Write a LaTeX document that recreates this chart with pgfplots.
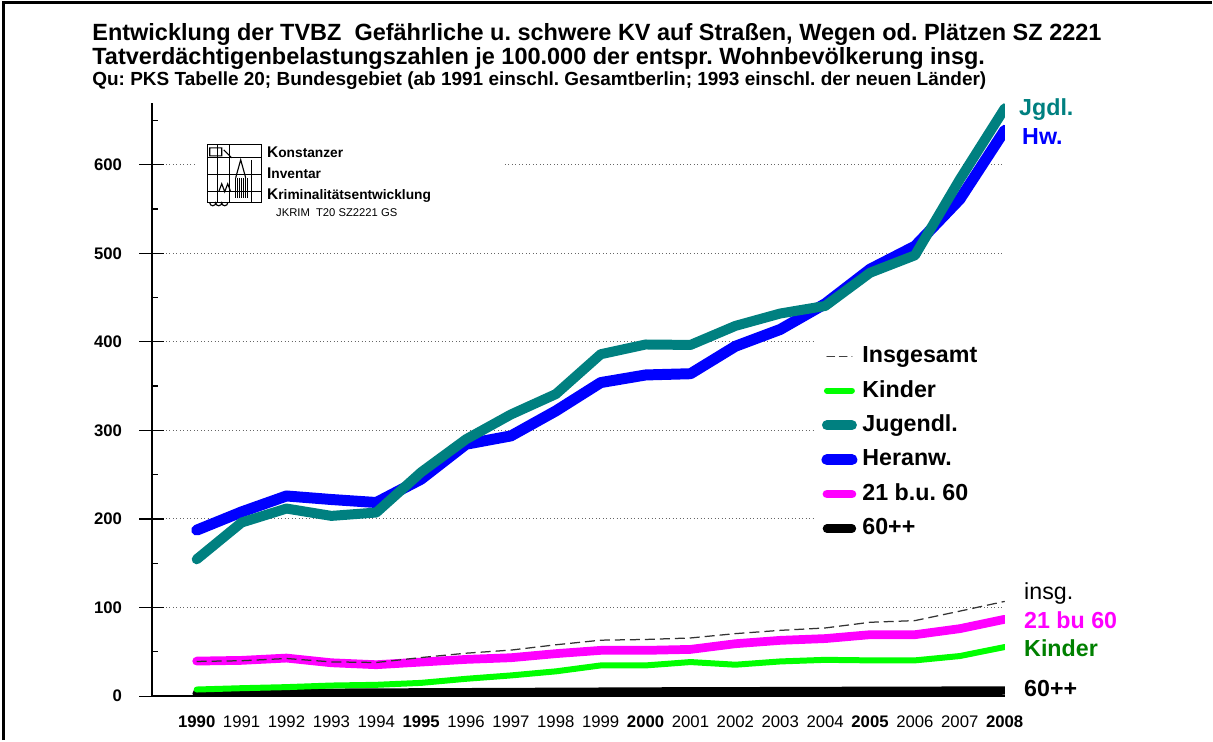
\documentclass[border=0pt]{standalone}
\usepackage{fontspec}
\setmainfont{Liberation Sans}
\usepackage{pgfplots}
\usepackage{pgfplotstable}
\pgfplotsset{compat=1.18}
\definecolor{jgteal}{HTML}{008080}
\definecolor{hwblue}{HTML}{0000FF}
\definecolor{magen}{HTML}{FF00FF}
\definecolor{kgreen}{HTML}{00FF00}
\definecolor{kdark}{HTML}{008000}
\frenchspacing

% TVBZ je 100.000, PKS Tabelle 20, SZ 2221
\pgfplotstableread{
year insg kinder jugend heranw mid senior
1990 39.2 7.5 154.5 187.4 39.6 3.0
1991 40.0 9.0 196.0 208.0 40.4 3.3
1992 42.5 10.2 211.8 226.0 43.0 3.6
1993 38.7 12.0 203.5 222.0 37.7 3.8
1994 38.0 12.8 207.3 218.6 35.5 4.0
1995 43.6 15.0 252.8 245.0 38.5 4.2
1996 48.5 19.6 290.0 284.4 41.5 4.4
1997 52.0 23.4 318.0 293.8 43.4 4.6
1998 58.0 28.0 341.0 322.0 48.0 4.8
1999 63.2 34.7 386.0 354.0 51.7 5.0
2000 64.0 34.7 397.0 362.6 51.7 5.2
2001 65.7 38.5 396.5 364.0 52.8 5.4
2002 70.6 35.5 418.0 395.0 59.2 5.5
2003 74.3 39.2 432.0 414.0 63.0 5.6
2004 77.0 41.0 440.5 443.0 65.0 5.8
2005 83.4 40.4 478.0 482.0 69.4 5.9
2006 85.3 40.4 497.7 508.0 69.4 6.0
2007 96.0 45.3 583.5 561.0 76.2 6.2
2008 107.0 55.5 663.6 638.8 86.8 6.4
}\data

\begin{document}
\begin{tikzpicture}
\begin{scope}[x=0.4pt,y=-0.4pt]
  \path[use as bounding box] (0,0) rectangle (1213,741);
\end{scope}

\begin{axis}[
  scale only axis,
  width=341.6pt, height=237.7pt,
  at={(60.8pt,-278.8pt)}, anchor=south west,
  xmin=1989, xmax=2008, ymin=0, ymax=670,
  axis x line=bottom, axis y line=left,
  axis line style={-, black, line width=0.6pt},
  xtick={1990,...,2008},
  xticklabels={\textbf{1990},1991,1992,1993,1994,\textbf{1995},1996,1997,1998,1999,\textbf{2000},2001,2002,2003,2004,\textbf{2005},2006,2007,\textbf{2008}},
  x tick style={draw=none},
  xticklabel style={font=\fontsize{6.7}{8}\selectfont, yshift=0.6pt},
  ytick={0,100,...,600},
  minor ytick={50,150,...,650},
  tick align=center,
  major tick length=10pt,
  minor tick length=2.4pt,
  y tick style={black, line width=0.5pt},
  minor y tick style={xshift=1.2pt},
  yticklabel style={font=\bfseries\fontsize{6.7}{8}\selectfont, xshift=-3.4pt},
  /pgf/number format/assume math mode=true,
  ymajorgrids,
  grid style={densely dotted, black!60, line width=0.4pt},
  legend cell align=left,
  legend style={at={(axis cs:2003.85,404)}, anchor=north west, draw=none, fill=white,
    font=\bfseries\fontsize{9.3}{11}\selectfont, row sep=1.7pt, inner sep=1pt},
  legend image code/.code={\draw[#1, line cap=round] (0pt,0pt) -- (10pt,0pt);},
]
\fill[white] (axis cs:1990.0,630) rectangle (axis cs:1996.8,530);
\fill[white] (axis cs:2003.75,410) rectangle (axis cs:2008.2,190);

\addlegendimage{black!75, line width=0.5pt, dash pattern=on 3pt off 2pt}
\addlegendentry{Insgesamt}
\addlegendimage{kgreen, line width=2.4pt}
\addlegendentry{Kinder}
\addlegendimage{jgteal, line width=4pt}
\addlegendentry{Jugendl.}
\addlegendimage{hwblue, line width=4.4pt}
\addlegendentry{Heranw.}
\addlegendimage{magen, line width=3.5pt}
\addlegendentry{21 b.u. 60}
\addlegendimage{black, line width=3.4pt}
\addlegendentry{60++}

\addplot[forget plot, black, line width=3.4pt, line cap=round, line join=round] table[x=year, y=senior] {\data};
\addplot[forget plot, kgreen, line width=2.4pt, line cap=round, line join=round] table[x=year, y=kinder] {\data};
\addplot[forget plot, magen, line width=3.5pt, line cap=round, line join=round] table[x=year, y=mid] {\data};
\addplot[forget plot, black!80, line width=0.5pt, dash pattern=on 4pt off 2pt] table[x=year, y=insg] {\data};
\addplot[forget plot, hwblue, line width=4.4pt, line cap=round, line join=round] table[x=year, y=heranw] {\data};
\addplot[forget plot, jgteal, line width=4pt, line cap=round, line join=round] table[x=year, y=jugend] {\data};
\end{axis}

\begin{scope}[x=0.4pt,y=-0.4pt]
  % frame
  \draw[line width=1.2pt] (4,741) -- (4,2) -- (1213,2);
  % title
  \node[anchor=base west, inner sep=0] at (92,41) {\bfseries\fontsize{9.4}{11}\selectfont Entwicklung der TVBZ\ \ Gefährliche u. schwere KV auf Straßen, Wegen od. Plätzen SZ 2221};
  \node[anchor=base west, inner sep=0] at (92,65) {\bfseries\fontsize{9.4}{11}\selectfont Tatverdächtigenbelastungszahlen je 100.000 der entspr. Wohnbevölkerung insg.};
  \node[anchor=base west, inner sep=0] at (92,86) {\bfseries\fontsize{7.6}{9}\selectfont Qu: PKS Tabelle 20; Bundesgebiet (ab 1991 einschl. Gesamtberlin; 1993 einschl. der neuen Länder)};
  % logo
  \begin{scope}[line width=0.45pt]
    \draw (208,145) rectangle (262,203);
    \draw (218,145) -- (218,203) (230,145) -- (230,203) (252,160) -- (252,203);
    \draw (208,158) -- (262,158) (208,175) -- (262,175) (208,192) -- (262,192);
    \draw (210,148) rectangle (222,156) (224,150) -- (232,158);
    \draw (236,178) -- (241,160) -- (246,178);
    \foreach \i in {236,238,...,248} \draw (\i,178) -- (\i,198);
    \draw (210,203) arc (180:0:3) arc (180:0:3) arc (180:0:3);
    \draw (219,192) -- (222,184) -- (225,192) -- (228,184) -- (231,192);
  \end{scope}
  \node[anchor=base west, inner sep=0] at (267,158) {\bfseries{\fontsize{6.2}{7}\selectfont K}{\fontsize{5.5}{6}\selectfont onstanzer}};
  \node[anchor=base west, inner sep=0] at (267,179) {\bfseries{\fontsize{6.2}{7}\selectfont I}{\fontsize{5.5}{6}\selectfont nventar}};
  \node[anchor=base west, inner sep=0] at (267,200) {\bfseries{\fontsize{6.2}{7}\selectfont K}{\fontsize{5.5}{6}\selectfont riminalitätsentwicklung}};
  \node[anchor=base west, inner sep=0] at (276,217) {\fontsize{4.5}{5}\selectfont JKRIM\ \ T20 SZ2221 GS};
  % end labels
  \node[anchor=west, inner sep=0, text=jgteal] at (1020,110) {\bfseries\fontsize{9.3}{11}\selectfont Jgdl.};
  \node[anchor=west, inner sep=0, text=hwblue] at (1023,137) {\bfseries\fontsize{9.3}{11}\selectfont Hw.};
  \node[anchor=base west, inner sep=0] at (1025,600) {\fontsize{9.3}{11}\selectfont insg.};
  \node[anchor=west, inner sep=0, text=magen] at (1025,621) {\bfseries\fontsize{9.3}{11}\selectfont 21 bu 60};
  \node[anchor=west, inner sep=0, text=kdark] at (1025,649) {\bfseries\fontsize{9.3}{11}\selectfont Kinder};
  \node[anchor=west, inner sep=0] at (1025,689) {\bfseries\fontsize{9.3}{11}\selectfont 60++};
\end{scope}
\end{tikzpicture}
\end{document}
